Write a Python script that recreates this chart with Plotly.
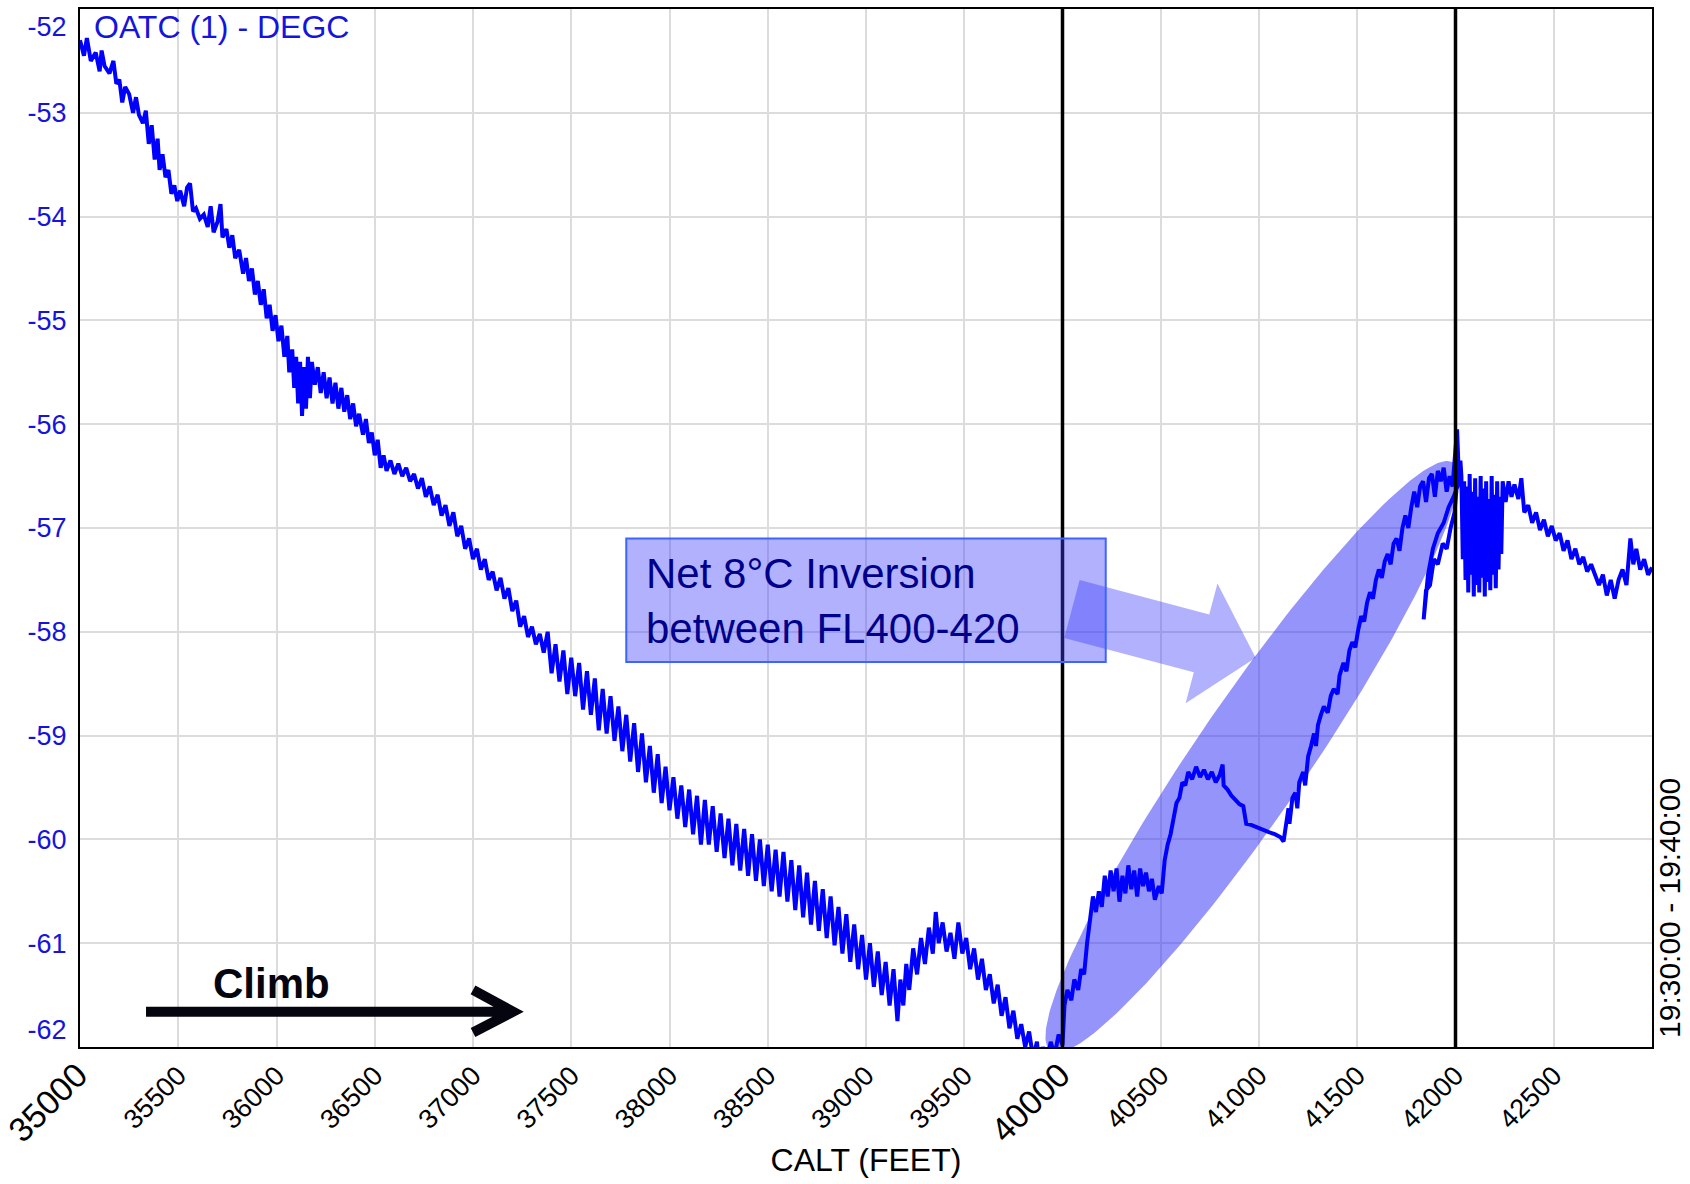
import numpy as np
import plotly.graph_objects as go

# ---------------- data ----------------
# climb from FL350 towards FL374
calt_lower_a = [
    35000, 35020, 35035, 35055, 35080, 35100, 35110, 35125, 35150, 35170, 35185, 35200, 35215, 35230,
    35250, 35270, 35285, 35300, 35320, 35335, 35350, 35365, 35380, 35395, 35405, 35420, 35435, 35450,
    35465, 35480, 35495, 35510, 35530, 35545, 35560, 35575, 35590, 35610, 35630, 35650, 35665, 35680,
    35700, 35715, 35725, 35745, 35760, 35775, 35790, 35810, 35830, 35845, 35860, 35875, 35890, 35905,
    35920, 35935, 35950, 35965, 35980, 35995, 36010, 36025, 36040, 36055, 36065, 36080, 36090, 36100,
    36110, 36120, 36130, 36140, 36150, 36160, 36170, 36180, 36195, 36210, 36225, 36240, 36255, 36270,
    36285, 36300, 36315, 36330, 36345, 36360, 36375, 36390, 36405, 36420, 36440, 36455, 36470, 36485,
    36500, 36515, 36530, 36545, 36560, 36580, 36600, 36620, 36640, 36660, 36680, 36700, 36720, 36740,
    36760, 36780, 36800, 36820, 36840, 36860, 36880, 36900, 36920, 36940, 36960, 36980, 37000, 37020,
    37040, 37060, 37080, 37100, 37120, 37140, 37160, 37180, 37200, 37220, 37240, 37260, 37280, 37300,
    37320, 37340, 37360,
]
oatc_lower_a = [
    -52.30, -52.45, -52.28, -52.50, -52.42, -52.60, -52.40, -52.55, -52.62, -52.50, -52.72, -52.68, -52.90, -52.75,
    -52.82, -53.00, -52.85, -53.02, -53.10, -52.98, -53.30, -53.12, -53.45, -53.25, -53.55, -53.40, -53.62, -53.55,
    -53.78, -53.70, -53.85, -53.75, -53.90, -53.72, -53.68, -53.95, -53.92, -54.02, -53.98, -54.10, -53.90, -54.15,
    -54.05, -53.88, -54.20, -54.12, -54.30, -54.18, -54.40, -54.32, -54.55, -54.40, -54.62, -54.50, -54.75, -54.62,
    -54.85, -54.70, -54.98, -54.85, -55.10, -54.95, -55.20, -55.05, -55.35, -55.15, -55.50, -55.28, -55.65, -55.35,
    -55.80, -55.40, -55.92, -55.45, -55.85, -55.35, -55.75, -55.40, -55.62, -55.45, -55.70, -55.50, -55.75, -55.55,
    -55.80, -55.60, -55.85, -55.65, -55.88, -55.72, -55.95, -55.80, -56.02, -55.90, -56.10, -55.95, -56.18, -56.08,
    -56.30, -56.15, -56.42, -56.30, -56.45, -56.35, -56.48, -56.38, -56.50, -56.42, -56.55, -56.48, -56.62, -56.52,
    -56.70, -56.60, -56.78, -56.68, -56.88, -56.78, -56.98, -56.85, -57.08, -56.98, -57.20, -57.10, -57.30, -57.20,
    -57.40, -57.30, -57.50, -57.42, -57.60, -57.48, -57.68, -57.58, -57.80, -57.70, -57.95, -57.85, -58.05, -57.95,
    -58.12, -58.02, -58.20,
]
# noisy band FL374 - FL392
calt_lower_b = [
    37380, 37400, 37420, 37440, 37460, 37480, 37500, 37520, 37540, 37560, 37580, 37600, 37620, 37640, 37660,
    37680, 37700, 37720, 37740, 37760, 37780, 37800, 37820, 37840, 37860, 37880, 37900, 37920, 37940, 37960,
    37980, 38000, 38020, 38040, 38060, 38080, 38100, 38120, 38140, 38160, 38180, 38200, 38220, 38240, 38260,
    38280, 38300, 38320, 38340, 38360, 38380, 38400, 38420, 38440, 38460, 38480, 38500, 38520, 38540, 38560,
    38580, 38600, 38620, 38640, 38660, 38680, 38700, 38720, 38740, 38760, 38780, 38800, 38820, 38840, 38860,
    38880, 38900, 38920, 38940, 38960, 38980, 39000, 39020, 39040, 39060, 39080, 39100, 39120, 39140, 39160,
]
oatc_lower_b = [
    -58.00, -58.40, -58.12, -58.48, -58.18, -58.60, -58.25, -58.62, -58.30, -58.75, -58.38, -58.80, -58.45, -58.95, -58.55,
    -58.98, -58.62, -59.05, -58.72, -59.15, -58.80, -59.25, -58.88, -59.35, -58.98, -59.45, -59.10, -59.55, -59.18, -59.65,
    -59.30, -59.72, -59.40, -59.80, -59.48, -59.88, -59.52, -59.95, -59.58, -60.05, -59.62, -60.05, -59.68, -60.12, -59.75,
    -60.18, -59.80, -60.25, -59.85, -60.30, -59.90, -60.35, -59.95, -60.40, -60.00, -60.45, -60.05, -60.50, -60.10, -60.55,
    -60.12, -60.60, -60.20, -60.68, -60.25, -60.75, -60.32, -60.82, -60.40, -60.88, -60.48, -60.95, -60.55, -61.02, -60.65,
    -61.10, -60.72, -61.18, -60.82, -61.25, -60.92, -61.35, -61.00, -61.42, -61.08, -61.50, -61.18, -61.60, -61.25, -61.75,
]
# bump near FL394 and bottom at FL400
calt_lower_c = [
    39175, 39190, 39205, 39220, 39240, 39260, 39280, 39300, 39320, 39340, 39355, 39370, 39390, 39410,
    39430, 39450, 39470, 39490, 39510, 39530, 39550, 39570, 39590, 39610, 39630, 39650, 39670, 39690,
    39710, 39730, 39750, 39770, 39790, 39810, 39830, 39850, 39870, 39885, 39900, 39920, 39940, 39960,
    39980, 40000,
]
oatc_lower_c = [
    -61.35, -61.60, -61.20, -61.45, -61.05, -61.30, -60.95, -61.20, -60.85, -61.10, -60.70, -61.00, -60.80, -61.08,
    -60.90, -61.15, -60.80, -61.10, -60.95, -61.25, -61.05, -61.35, -61.15, -61.45, -61.30, -61.58, -61.40, -61.70,
    -61.52, -61.82, -61.65, -61.92, -61.78, -62.00, -61.85, -62.10, -61.95, -62.25, -62.00, -62.15, -61.95, -62.08,
    -61.88, -61.98,
]
# inversion layer FL400 - FL420
calt_inversion = [
    40010, 40025, 40045, 40060, 40080, 40095, 40110, 40125, 40140, 40155, 40170, 40185, 40200, 40215,
    40230, 40245, 40260, 40275, 40290, 40305, 40320, 40335, 40350, 40365, 40380, 40395, 40410, 40425,
    40440, 40455, 40470, 40490, 40505, 40520, 40535, 40550, 40565, 40580, 40595, 40610, 40625, 40640,
    40660, 40680, 40700, 40720, 40740, 40760, 40780, 40800, 40815, 40820, 40840, 40860, 40880, 40900,
    40920, 40935, 40960, 40990, 41020, 41050, 41080, 41110, 41125, 41140, 41150, 41155, 41170, 41185,
    41195, 41205, 41225, 41235, 41250, 41265, 41280, 41290, 41300, 41315, 41330, 41350, 41365, 41380,
    41400, 41410, 41430, 41445, 41460, 41475, 41490, 41505, 41520, 41535, 41550, 41565, 41580, 41595,
    41610, 41625, 41640, 41655, 41670, 41685, 41700, 41715, 41730, 41745, 41760, 41775, 41790, 41805,
    41820, 41835, 41850, 41865, 41880, 41895, 41910, 41925, 41940, 41955, 41970, 41985, 42000, 42008,
    42015, 41995, 41975, 41955, 41935, 41910, 41890, 41870, 41850, 41838, 41860, 41885, 41910, 41940,
    41965, 41990, 42010, 42025,
]
oatc_inversion = [
    -61.60, -61.45, -61.55, -61.35, -61.45, -61.25, -61.30, -61.00, -60.75, -60.55, -60.70, -60.50, -60.65, -60.35,
    -60.55, -60.30, -60.50, -60.28, -60.60, -60.35, -60.52, -60.25, -60.48, -60.30, -60.55, -60.28, -60.45, -60.32,
    -60.50, -60.38, -60.58, -60.45, -60.52, -60.20, -60.05, -59.95, -59.80, -59.65, -59.60, -59.45, -59.48, -59.35,
    -59.42, -59.30, -59.40, -59.33, -59.42, -59.35, -59.45, -59.38, -59.28, -59.48, -59.52, -59.58, -59.62, -59.66,
    -59.68, -59.85, -59.86, -59.88, -59.90, -59.93, -59.95, -59.98, -60.02, -59.85, -59.70, -59.85, -59.60, -59.55,
    -59.70, -59.45, -59.35, -59.48, -59.20, -59.10, -58.98, -59.10, -58.90, -58.80, -58.72, -58.78, -58.62, -58.55,
    -58.60, -58.42, -58.30, -58.38, -58.18, -58.10, -58.15, -57.98, -57.85, -57.90, -57.72, -57.62, -57.68, -57.50,
    -57.40, -57.48, -57.32, -57.25, -57.35, -57.15, -57.10, -57.22, -57.00, -56.88, -57.00, -56.80, -56.65, -56.80,
    -56.60, -56.55, -56.75, -56.52, -56.48, -56.70, -56.45, -56.55, -56.42, -56.65, -56.50, -56.60, -56.20, -56.05,
    -56.40, -56.85, -57.00, -57.20, -57.15, -57.35, -57.30, -57.55, -57.60, -57.88, -57.45, -57.20, -57.05, -56.95,
    -56.80, -56.70, -56.60, -56.35,
]
# level-off turbulence just above FL420 and the rest of the climb
calt_upper = [
    42030, 42037, 42044, 42051, 42058, 42065, 42072, 42079, 42086, 42093, 42100, 42107, 42114, 42121,
    42128, 42135, 42142, 42149, 42156, 42163, 42170, 42177, 42184, 42191, 42198, 42205, 42212, 42219,
    42226, 42233, 42240,
    42255, 42270, 42285, 42300, 42320, 42335, 42350, 42370, 42390, 42410, 42430, 42450, 42470, 42490,
    42510, 42530, 42550, 42570, 42590, 42610, 42630, 42650, 42670, 42690, 42710, 42730, 42750, 42770,
    42790, 42810, 42830, 42850, 42870, 42890, 42905, 42920, 42940, 42960, 42980, 43000,
]
oatc_upper = [
    -56.50, -57.30, -56.55, -57.50, -56.60, -57.62, -56.48, -57.45, -56.65, -57.66, -56.52, -57.55, -56.70, -57.62,
    -56.50, -57.48, -56.62, -57.66, -56.55, -57.52, -56.72, -57.60, -56.50, -57.45, -56.68, -57.58, -56.55, -57.40,
    -56.70, -57.25, -56.55,
    -56.75, -56.55, -56.70, -56.58, -56.72, -56.52, -56.85, -56.78, -56.95, -56.85, -57.02, -56.92, -57.08, -56.98,
    -57.12, -57.05, -57.22, -57.12, -57.30, -57.20, -57.35, -57.28, -57.42, -57.35, -57.45, -57.55, -57.45, -57.65,
    -57.50, -57.68, -57.50, -57.40, -57.55, -57.10, -57.35, -57.20, -57.40, -57.30, -57.45, -57.38,
]

x_tick_vals = [35000, 35500, 36000, 36500, 37000, 37500, 38000, 38500, 39000, 39500,
               40000, 40500, 41000, 41500, 42000, 42500]
x_major_ticks = [35000, 40000]
y_tick_vals = [-52, -53, -54, -55, -56, -57, -58, -59, -60, -61, -62]
flight_levels = [40000, 42000]          # FL400 / FL420 marker lines

X_RANGE = [35000, 43000]
Y_RANGE = [-62, -52]

# ---------------- geometry helpers ----------------
W, H = 1690, 1184
M = dict(l=80, r=38, t=9, b=137)
PW = W - M["l"] - M["r"]
PH = H - M["t"] - M["b"]


def x2px(x):
    return M["l"] + (np.asarray(x) - X_RANGE[0]) / (X_RANGE[1] - X_RANGE[0]) * PW


def y2px(y):
    return M["t"] + (Y_RANGE[1] - np.asarray(y)) / (Y_RANGE[1] - Y_RANGE[0]) * PH


def px2x(p):
    return X_RANGE[0] + (np.asarray(p) - M["l"]) / PW * (X_RANGE[1] - X_RANGE[0])


def py2y(p):
    return Y_RANGE[1] - (np.asarray(p) - M["t"]) / PH * (Y_RANGE[1] - Y_RANGE[0])


FONT = "Arial, Liberation Sans, sans-serif"
BLUE = "#0000ff"
LABEL_BLUE = "#1414dc"

calt = calt_lower_a + calt_lower_b + calt_lower_c + calt_inversion + calt_upper
oatc = oatc_lower_a + oatc_lower_b + oatc_lower_c + oatc_inversion + oatc_upper

# ---- highlight ellipse (annotation) ----
ell_end_a = (39940, -62.04)
ell_end_b = (41990, -56.37)
ell_half_width_px = 56
ax_, ay_ = x2px(ell_end_a[0]), y2px(ell_end_a[1])
bx_, by_ = x2px(ell_end_b[0]), y2px(ell_end_b[1])
cx, cy = (ax_ + bx_) / 2, (ay_ + by_) / 2
half_len = np.hypot(bx_ - ax_, by_ - ay_) / 2
ux, uy = (bx_ - ax_) / (2 * half_len), (by_ - ay_) / (2 * half_len)
vx, vy = -uy, ux
t = np.linspace(0, 2 * np.pi, 241)
ell_px = cx + half_len * np.cos(t) * ux + ell_half_width_px * np.sin(t) * vx
ell_py = cy + half_len * np.cos(t) * uy + ell_half_width_px * np.sin(t) * vy

# ---- block arrow (annotation) ----
arrow_tail = (40048, -57.78)
arrow_tip = (40983, -58.25)
shaft_half, head_len, head_half = 30, 56, 62
tx, ty = x2px(arrow_tail[0]), y2px(arrow_tail[1])
px_, py_ = x2px(arrow_tip[0]), y2px(arrow_tip[1])
alen = np.hypot(px_ - tx, py_ - ty)
aux, auy = (px_ - tx) / alen, (py_ - ty) / alen
anx, any_ = -auy, aux
bxh, byh = tx + aux * (alen - head_len), ty + auy * (alen - head_len)
arr_pts = [
    (tx + anx * shaft_half, ty + any_ * shaft_half),
    (bxh + anx * shaft_half, byh + any_ * shaft_half),
    (bxh + anx * head_half, byh + any_ * head_half),
    (px_, py_),
    (bxh - anx * head_half, byh - any_ * head_half),
    (bxh - anx * shaft_half, byh - any_ * shaft_half),
    (tx - anx * shaft_half, ty - any_ * shaft_half),
    (tx + anx * shaft_half, ty + any_ * shaft_half),
]
arr_px = np.array([p[0] for p in arr_pts])
arr_py = np.array([p[1] for p in arr_pts])

# ---------------- figure ----------------
fig = go.Figure()

fig.add_trace(go.Scatter(
    x=px2x(ell_px), y=py2y(ell_py), mode="lines", fill="toself",
    fillcolor="rgba(50,50,245,0.52)", line=dict(width=0), hoverinfo="skip", showlegend=False,
))
fig.add_trace(go.Scatter(
    x=px2x(arr_px), y=py2y(arr_py), mode="lines", fill="toself",
    fillcolor="rgba(60,60,250,0.40)", line=dict(width=0), hoverinfo="skip", showlegend=False,
))
fig.add_trace(go.Scatter(
    x=calt, y=oatc, mode="lines", name="OATC (1) - DEGC",
    line=dict(color=BLUE, width=4), showlegend=False,
))

x_tick_text = [
    f'<span style="font-size:34px">{v}</span>' if v in x_major_ticks else str(v)
    for v in x_tick_vals
]
NBSP = "\u00a0"
y_tick_text = []
for v in y_tick_vals:
    if v == Y_RANGE[1]:
        y_tick_text.append(f"{NBSP}<br>{v}")
    elif v == Y_RANGE[0]:
        y_tick_text.append(f"{v}<br>{NBSP}")
    else:
        y_tick_text.append(str(v))

shapes = []
for fl in flight_levels:
    shapes.append(dict(type="line", xref="x", yref="paper", x0=fl, x1=fl, y0=0, y1=1,
                       line=dict(color="black", width=3.5), layer="above"))

# text box
box = dict(x0=37780, x1=40220, y0=-57.10, y1=-58.29)
shapes.append(dict(type="rect", xref="x", yref="y", **box,
                   fillcolor="rgba(60,60,250,0.40)",
                   line=dict(color="#3c64ff", width=2), layer="above"))

# climb arrow
climb = dict(x_tail=35336, x_tip=37204, y=-61.66, x_arm=37000, y_up=-61.45, y_dn=-61.86)
climb_path = (f"M {climb['x_tail']},{climb['y']} L {climb['x_tip']},{climb['y']} "
              f"M {climb['x_arm']},{climb['y_up']} L {climb['x_tip']},{climb['y']} "
              f"L {climb['x_arm']},{climb['y_dn']}")
shapes.append(dict(type="path", xref="x", yref="y", path=climb_path,
                   line=dict(color="#05050f", width=10), layer="above"))

annotations = [
    dict(text="OATC (1) - DEGC", xref="paper", yref="paper", x=0.0076, y=0.983,
         xanchor="left", yanchor="middle", showarrow=False,
         font=dict(family=FONT, size=32, color=LABEL_BLUE)),
    dict(text="Net 8°C Inversion<br>between FL400-420", xref="x", yref="y",
         x=37870, y=-57.70, xanchor="left", yanchor="middle", align="left", showarrow=False,
         font=dict(family=FONT, size=42, color="#00008b")),
    dict(text="<b>Climb</b>", xref="x", yref="y", x=35977, y=-61.39,
         xanchor="center", yanchor="middle", showarrow=False,
         font=dict(family=FONT, size=42, color="#05050f")),
    dict(text="19:30:00 - 19:40:00", xref="paper", yref="paper", x=1.0115, y=0.134,
         xanchor="center", yanchor="middle", textangle=-90, showarrow=False,
         font=dict(family=FONT, size=30, color="black")),
]

fig.update_layout(
    width=W, height=H, margin=M,
    paper_bgcolor="white", plot_bgcolor="white",
    font=dict(family=FONT, color="black"),
    shapes=shapes, annotations=annotations,
    xaxis=dict(
        range=X_RANGE, tickmode="array", tickvals=x_tick_vals, ticktext=x_tick_text,
        tickangle=-45, tickfont=dict(family=FONT, size=27, color="black"),
        showgrid=True, gridcolor="#dcdcdc", gridwidth=1.5, zeroline=False,
        showline=True, mirror=True, linecolor="black", linewidth=2, ticks="",
        ticklabelstandoff=0, ticklabeloverflow="allow", automargin=False,
        title=dict(text="CALT (FEET)", font=dict(family=FONT, size=32, color="black"), standoff=0),
    ),
    yaxis=dict(
        range=Y_RANGE, tickmode="array", tickvals=y_tick_vals, ticktext=y_tick_text,
        tickfont=dict(family=FONT, size=27, color=LABEL_BLUE),
        showgrid=True, gridcolor="#dcdcdc", gridwidth=1.5, zeroline=False,
        showline=True, mirror=True, linecolor="black", linewidth=2, ticks="",
        ticklabelstandoff=6, ticklabeloverflow="allow", automargin=False,
    ),
)

fig.write_html("out.html")
